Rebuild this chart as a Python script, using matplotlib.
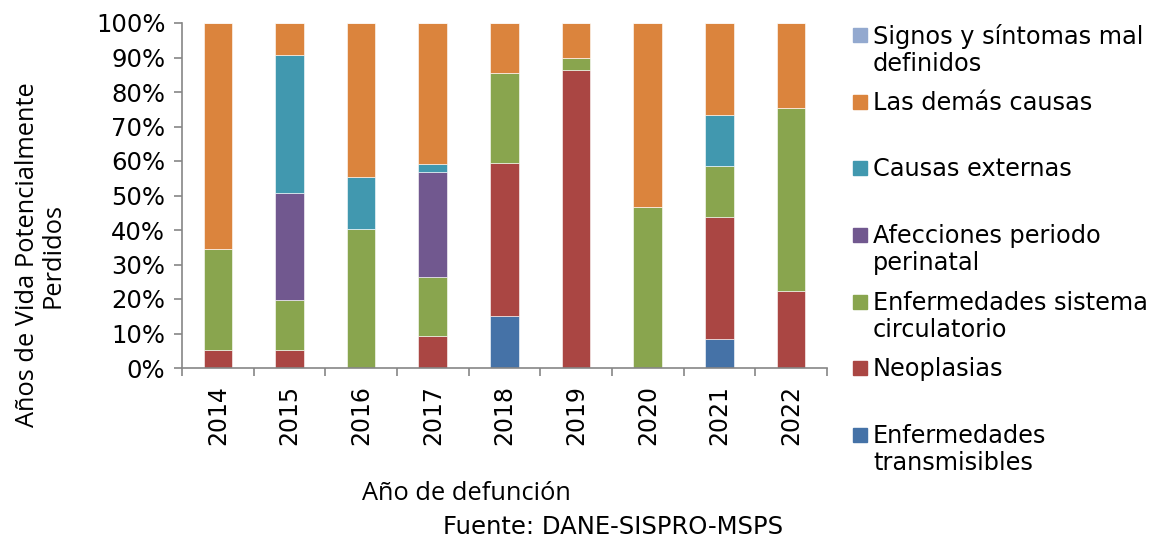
import matplotlib
matplotlib.use('Agg')
import matplotlib.pyplot as plt
import numpy as np
from matplotlib.patches import Rectangle

years = ['2014', '2015', '2016', '2017', '2018', '2019', '2020', '2021', '2022']

# percentage of years of potential life lost, by cause (bottom to top)
transmisibles = [0.0, 0.0, 0.0, 0.0, 15.2, 0.0, 0.0, 8.5, 0.0]
neoplasias = [5.2, 5.2, 0.0, 9.3, 44.1, 86.5, 0.0, 35.3, 22.2]
circulatorio = [29.2, 14.5, 40.2, 17.0, 26.2, 3.3, 46.7, 14.8, 53.1]
perinatal = [0.0, 31.1, 0.0, 30.6, 0.0, 0.0, 0.0, 0.0, 0.0]
externas = [0.0, 40.0, 15.1, 2.2, 0.0, 0.0, 0.0, 14.6, 0.0]
demas = [65.6, 9.2, 44.7, 40.9, 14.5, 10.2, 53.3, 26.8, 24.7]
signos = [0.0, 0.0, 0.0, 0.0, 0.0, 0.0, 0.0, 0.0, 0.0]

series = [
    ('Enfermedades\ntransmisibles', transmisibles, '#4572A7'),
    ('Neoplasias', neoplasias, '#AA4643'),
    ('Enfermedades sistema\ncirculatorio', circulatorio, '#89A54E'),
    ('Afecciones periodo\nperinatal', perinatal, '#71588F'),
    ('Causas externas', externas, '#4198AF'),
    ('Las demás causas', demas, '#DB843D'),
    ('Signos y síntomas mal\ndefinidos', signos, '#93A9CF'),
]

fig = plt.figure(figsize=(11.5, 5.4), dpi=100)
ax = fig.add_axes([182 / 1150, 1 - 368 / 540, 645 / 1150, 345 / 540])

x = np.arange(len(years))
bottom = np.zeros(len(years))
for label, vals, color in series:
    vals = np.array(vals)
    ax.bar(x, vals, 0.4, bottom=bottom, color=color,
           edgecolor='white', linewidth=0.4)
    bottom += vals

ax.set_xlim(-0.5, len(years) - 0.5)
ax.set_ylim(0, 100)
ax.set_yticks(np.arange(0, 101, 10))
ax.set_yticklabels([f'{v}%' for v in range(0, 101, 10)], fontsize=17.5)
ax.set_xticks(x)
ax.set_xticklabels(years, rotation=90, fontsize=17)
ax.tick_params(axis='x', length=0, pad=12)
ax.set_xticks(np.arange(-0.5, len(years), 1), minor=True)
ax.tick_params(axis='x', which='minor', length=6, color='#868686', width=1.2)
ax.tick_params(axis='y', length=6, color='#868686', width=1.2, pad=6)
for s in ['top', 'right']:
    ax.spines[s].set_visible(False)
for s in ['left', 'bottom']:
    ax.spines[s].set_color('#868686')
    ax.spines[s].set_linewidth(1.2)

# legend, Excel style (marker aligned with first text line)
W, H = 1150, 540
for i, (label, vals, color) in enumerate(reversed(series)):
    yc = 35 + i * 66.67
    fig.patches.append(Rectangle((853 / W, 1 - (yc + 7) / H), 14 / W, 14 / H,
                                 transform=fig.transFigure, color=color))
    fig.text(873 / W, 1 - (yc - 11) / H, label, fontsize=17.3, va='top',
             ha='left', linespacing=1.17)

fig.text(40 / W, 1 - 255 / H, 'Años de Vida Potencialmente\nPerdidos',
         rotation=90, ha='center', va='center', fontsize=18.3,
         family='Open Sans', linespacing=1.05)
fig.text(466 / W, 1 - 493 / H, 'Año de defunción', ha='center', va='center',
         fontsize=18.3, family='Open Sans')
fig.text(613 / W, 1 - 527 / H, 'Fuente: DANE-SISPRO-MSPS', ha='center',
         va='center', fontsize=17.5)

fig.savefig('out.png', dpi=100)
